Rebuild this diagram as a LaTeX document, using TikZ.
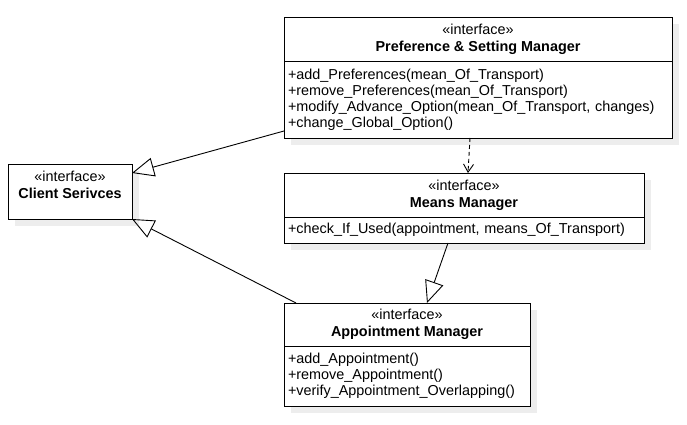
\documentclass[tikz,border=0pt]{standalone}
\usepackage{fontspec}
\setmainfont{Liberation Sans}
\usetikzlibrary{arrows.meta, positioning, shadows}

\begin{document}
\begin{tikzpicture} [
    x=1pt, y=-1pt,
    font=\fontsize{14.4pt}{16pt}\selectfont,
    every node/.style={draw, fill=white, line width=0.9pt, outer sep=0pt, inner xsep=4pt, inner ysep=0pt,
      drop shadow={shadow xshift=7pt, shadow yshift=-7pt, fill=black!7, opacity=1}},
    head/.style={align=center, minimum height=44pt},
    body/.style={align=left},
    gen edge/.style={draw, line width=0.9pt, -{Triangle[open, length=22pt, width=19pt]}},
    dep edge/.style={draw, line width=0.9pt, dash pattern=on 4pt off 3pt, -{Straight Barb[length=8pt, width=10pt]}}
  ]
  \useasboundingbox (0,0) rectangle (687,425);

  % Nodes and Positions
  % LEFT
  \node (client) [head, minimum width=124pt, minimum height=55pt, text depth=13pt, anchor=north west] at (8,164)
    {«interface»\\[1pt]\textbf{Client Serivces}};

  % TOP
  \node (prefHead) [head, minimum width=388pt, anchor=north west] at (284,17)
    {«interface»\\[1pt]\textbf{Preference \& Setting Manager}};
  \node (prefBody) [body, text width=380pt, minimum height=77pt, below=0pt of prefHead]
    {+add\_Preferences(mean\_Of\_Transport)\\
     +remove\_Preferences(mean\_Of\_Transport)\\
     +modify\_Advance\_Option(mean\_Of\_Transport, changes)\\
     +change\_Global\_Option()};

  % MIDDLE
  \node (meansHead) [head, minimum width=360pt, below=35pt of prefBody.south west, anchor=north west]
    {«interface»\\[1pt]\textbf{Means Manager}};
  \node (meansBody) [body, text width=352pt, minimum height=26pt, below=0pt of meansHead]
    {+check\_If\_Used(appointment, means\_Of\_Transport)};

  % BOTTOM
  \node (apptHead) [head, minimum width=246pt, minimum height=43pt, below=60pt of meansBody.south west, anchor=north west]
    {«interface»\\[1pt]\textbf{Appointment Manager}};
  \node (apptBody) [body, text width=238pt, minimum height=60pt, below=0pt of apptHead]
    {+add\_Appointment()\\
     +remove\_Appointment()\\
     +verify\_Appointment\_Overlapping()};

  % Edges
  \path ([yshift=7pt]prefBody.south west) edge[gen edge] ([yshift=-9pt]client.north east);
  \path ([xshift=12pt]apptHead.north west) edge[gen edge] (client.south east);
  \path ([xshift=-16pt]meansBody.south) edge[gen edge] ([xshift=20pt]apptHead.north);
  \path ([xshift=-8pt]prefBody.south) edge[dep edge] ([xshift=4pt]meansHead.north);

\end{tikzpicture}
\end{document}
